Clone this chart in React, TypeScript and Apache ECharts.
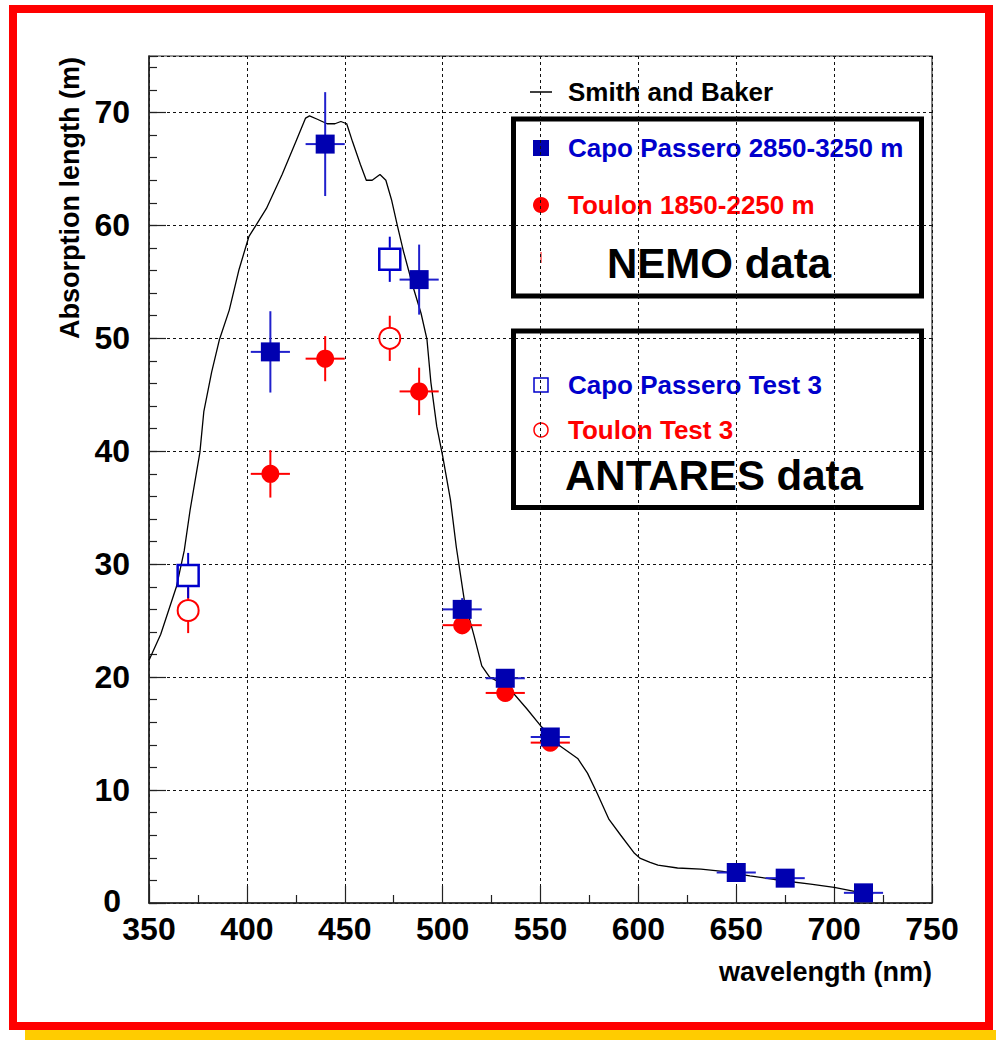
import React, { useEffect, useRef } from "react";
import * as echarts from "echarts";

// ---- Data ----
// Smith and Baker absorption curve
const sbWavelength = [350, 356, 364, 368, 371, 376, 378, 382, 386, 391, 396, 401, 410, 418, 425, 430, 432, 436, 441, 445, 448, 451, 454, 458, 461, 464, 468, 471, 474, 477, 480, 485, 489, 492, 494, 497, 500, 504, 507, 511, 516, 520, 524, 533, 543, 550, 560, 569, 574, 579, 585, 591, 598, 601, 606, 610, 620, 632, 643, 657, 674, 688, 700, 713, 720];
const sbAbsorption = [21.5, 23.8, 28.0, 31.2, 34.8, 39.9, 43.5, 47.0, 49.9, 52.5, 56.1, 59.0, 61.5, 64.5, 67.4, 69.5, 69.7, 69.4, 69.0, 69.0, 69.2, 69.0, 67.4, 65.4, 64.0, 64.0, 64.5, 64.0, 62.2, 59.9, 57.7, 54.5, 52.2, 49.9, 46.1, 42.2, 39.6, 35.7, 31.5, 26.9, 23.7, 21.0, 20.0, 19.2, 17.2, 15.7, 13.9, 12.8, 11.5, 9.7, 7.4, 6.0, 4.4, 3.95, 3.6, 3.35, 3.1, 3.0, 2.8, 2.4, 1.97, 1.68, 1.38, 0.94, 0.8];

// Capo Passero 2850-3250 m (NEMO)
const capoX = [412, 440, 488, 510, 532, 555, 650, 675, 715];
const capoY = [48.8, 67.2, 55.2, 26.0, 19.9, 14.7, 2.7, 2.2, 0.9];
const capoXErr = [10, 10, 10, 10, 10, 10, 10, 10, 10];
const capoYErr = [3.6, 4.6, 3.1, 1.0, 0.8, 0.6, 0.3, 0.3, 0.2];

// Toulon 1850-2250 m (NEMO)
const toulonX = [412, 440, 488, 510, 532, 555];
const toulonY = [38.0, 48.2, 45.3, 24.6, 18.6, 14.2];
const toulonXErr = [10, 10, 10, 10, 10, 10];
const toulonYErr = [2.1, 2.0, 2.1, 0.8, 0.6, 0.5];

// Capo Passero Test 3 (ANTARES)
const capoT3X = [370, 473];
const capoT3Y = [29.0, 57.0];
const capoT3YErr = [2.0, 2.0];

// Toulon Test 3 (ANTARES)
const toulonT3X = [370, 473];
const toulonT3Y = [25.9, 50.0];
const toulonT3YErr = [2.0, 2.0];

const xTicks = { min: 350, max: 750, step: 50 };
const yTicks = { min: 0, max: 75, step: 10, minorStep: 2 };

const FONT = '"Liberation Sans", Arial, Helvetica, sans-serif';
const BLUE_FILL = "#0000b0";
const BLUE = "#0000cc";
const BLUE_BAR = "#2020cc";
const RED = "#ff0000";

function errorSeries(name: string, xs: number[], ys: number[], xe: number[] | null, ye: number[], color: string, gap: number) {
  const data = xs.map((x, i) => [x, ys[i], xe ? xe[i] : 0, ye[i]]);
  return {
    type: "custom",
    name,
    data,
    encode: { x: 0, y: 1 },
    silent: true,
    z: 3,
    renderItem: (params: any, api: any) => {
      const x = api.value(0);
      const y = api.value(1);
      const ex = api.value(2);
      const ey = api.value(3);
      const c = api.coord([x, y]);
      const top = api.coord([x, y + ey]);
      const bot = api.coord([x, y - ey]);
      const left = api.coord([x - ex, y]);
      const right = api.coord([x + ex, y]);
      const style = { stroke: color, lineWidth: 2, fill: null };
      const children: any[] = [];
      if (c[1] - top[1] > gap) {
        children.push({ type: "line", shape: { x1: c[0], y1: c[1] - gap, x2: top[0], y2: top[1] }, style });
      }
      if (bot[1] - c[1] > gap) {
        children.push({ type: "line", shape: { x1: c[0], y1: c[1] + gap, x2: bot[0], y2: bot[1] }, style });
      }
      if (c[0] - left[0] > gap) {
        children.push({ type: "line", shape: { x1: c[0] - gap, y1: c[1], x2: left[0], y2: left[1] }, style });
      }
      if (right[0] - c[0] > gap) {
        children.push({ type: "line", shape: { x1: c[0] + gap, y1: c[1], x2: right[0], y2: right[1] }, style });
      }
      return { type: "group", children };
    },
  };
}

function App() {
  const ref = useRef<HTMLDivElement>(null);

  useEffect(() => {
    if (!ref.current) return;
    const chart = echarts.init(ref.current, null, { renderer: "svg" });

    const tickLine = { color: "#222", width: 1.2 };
    const labelStyle = { fontSize: 32, lineHeight: 24, fontWeight: "bold" as const, color: "#000", fontFamily: FONT };
    const gridLine = { color: "#111", type: [3, 3] as any, width: 1 };

    const option: any = {
      animation: false,
      backgroundColor: "#ffffff",
      grid: {
        left: 149,
        top: 56,
        right: 64,
        bottom: 137,
        show: true,
        borderColor: "#333",
        borderWidth: 1.2,
        backgroundColor: "transparent",
      },
      xAxis: [
        {
          type: "value",
          min: xTicks.min,
          max: xTicks.max,
          interval: xTicks.step,
          axisLine: { show: true, onZero: false, lineStyle: { color: "#222", width: 1.5 } },
          axisTick: { show: true, inside: true, length: 17, lineStyle: tickLine },
          minorTick: { show: true, splitNumber: 2, length: 8, lineStyle: tickLine },
          splitLine: { show: true, lineStyle: gridLine },
          axisLabel: { ...labelStyle, margin: 14 },
        },
      ],
      yAxis: [
        {
          type: "value",
          position: "left",
          min: yTicks.min,
          max: yTicks.max,
          interval: yTicks.step,
          axisLine: { show: true, onZero: false, lineStyle: { color: "#222", width: 1.5 } },
          axisTick: { show: true, inside: true, length: 17, lineStyle: tickLine },
          splitLine: { show: true, lineStyle: gridLine },
          axisLabel: {
            ...labelStyle,
            margin: 19,
            showMaxLabel: false,
            formatter: (v: number) => (v > 70 ? "" : v === 0 ? "{zero|0}" : String(v)),
            rich: {
              zero: { fontSize: 32, lineHeight: 24, fontWeight: "bold", color: "#000", fontFamily: FONT, padding: [0, 9, 4, 0] },
            },
          },
        },
        {
          type: "value",
          position: "left",
          min: yTicks.min,
          max: yTicks.max,
          interval: yTicks.minorStep,
          axisLine: { show: false, onZero: false },
          axisTick: { show: true, inside: true, length: 8, lineStyle: tickLine },
          splitLine: { show: false },
          axisLabel: { show: false },
        },
      ],
      series: [
        {
          type: "line",
          name: "Smith and Baker",
          data: sbWavelength.map((x, i) => [x, sbAbsorption[i]]),
          showSymbol: false,
          symbol: "none",
          lineStyle: { color: "#000", width: 1.3 },
          z: 2,
          silent: true,
        },
        errorSeries("Toulon Test 3 err", toulonT3X, toulonT3Y, null, toulonT3YErr, RED, 11),
        {
          type: "scatter",
          name: "Toulon Test 3",
          data: toulonT3X.map((x, i) => [x, toulonT3Y[i]]),
          symbol: "circle",
          symbolSize: 21,
          itemStyle: { color: "rgba(255,255,255,0)", borderColor: RED, borderWidth: 2, opacity: 1 },
          z: 4,
        },
        errorSeries("Capo Passero Test 3 err", capoT3X, capoT3Y, null, capoT3YErr, BLUE, 11.5),
        {
          type: "scatter",
          name: "Capo Passero Test 3",
          data: capoT3X.map((x, i) => [x, capoT3Y[i]]),
          symbol: "rect",
          symbolSize: 21,
          itemStyle: { color: "rgba(255,255,255,0)", borderColor: BLUE, borderWidth: 2.5, opacity: 1 },
          z: 4,
        },
        errorSeries("Toulon 1850-2250 m err", toulonX, toulonY, toulonXErr, toulonYErr, RED, 0),
        {
          type: "scatter",
          name: "Toulon 1850-2250 m",
          data: toulonX.map((x, i) => [x, toulonY[i]]),
          symbol: "circle",
          symbolSize: 18,
          itemStyle: { color: RED, opacity: 1 },
          z: 4,
        },
        errorSeries("Capo Passero 2850-3250 m err", capoX, capoY, capoXErr, capoYErr, BLUE_BAR, 0),
        {
          type: "scatter",
          name: "Capo Passero 2850-3250 m",
          data: capoX.map((x, i) => [x, capoY[i]]),
          symbol: "rect",
          symbolSize: 19,
          itemStyle: { color: BLUE_FILL, opacity: 1 },
          z: 5,
        },
      ],
      graphic: [
        // outer frame and shadow
        { type: "rect", shape: { x: 25, y: 1030, width: 971, height: 10 }, style: { fill: "#ffcc00" }, z: 0 },
        { type: "rect", shape: { x: 13, y: 9, width: 976, height: 1017 }, style: { fill: "none", stroke: "#ff0000", lineWidth: 8 }, z: 0 },
        // axis titles
        {
          type: "text",
          x: 70,
          y: 57,
          rotation: Math.PI / 2,
          style: { text: "Absorption length (m)", x: 0, y: 0, font: `bold 27px ${FONT}`, fill: "#000", align: "right", verticalAlign: "middle", textAlign: "right", textVerticalAlign: "middle" },
        },
        {
          type: "text",
          style: { text: "wavelength (nm)", x: 932, y: 972, font: `bold 27px ${FONT}`, fill: "#000", align: "right", verticalAlign: "middle", textAlign: "right", textVerticalAlign: "middle" },
        },
        // legend: Smith and Baker
        { type: "line", shape: { x1: 530, y1: 92, x2: 552, y2: 92 }, style: { stroke: "#000", lineWidth: 1.5 } },
        { type: "text", style: { text: "Smith and Baker", x: 568, y: 92, font: `bold 26px ${FONT}`, fill: "#000", align: "left", verticalAlign: "middle", textAlign: "left", textVerticalAlign: "middle" } },
        // NEMO box
        { type: "rect", shape: { x: 513.5, y: 119, width: 408, height: 177 }, style: { fill: "none", stroke: "#000", lineWidth: 5 } },
        { type: "rect", shape: { x: 533, y: 140, width: 16, height: 16 }, style: { fill: BLUE_FILL } },
        { type: "text", style: { text: "Capo Passero 2850-3250 m", x: 568, y: 148, font: `bold 26px ${FONT}`, fill: BLUE, align: "left", verticalAlign: "middle", textAlign: "left", textVerticalAlign: "middle" } },
        { type: "circle", shape: { cx: 541, cy: 205, r: 8 }, style: { fill: RED } },
        { type: "text", style: { text: "Toulon 1850-2250 m", x: 568, y: 205, font: `bold 26px ${FONT}`, fill: RED, align: "left", verticalAlign: "middle", textAlign: "left", textVerticalAlign: "middle" } },
        { type: "line", shape: { x1: 541, y1: 252, x2: 541, y2: 263 }, style: { stroke: RED, lineWidth: 1 } },
        { type: "text", style: { text: "NEMO data", x: 607, y: 263, font: `bold 42px ${FONT}`, fill: "#000", align: "left", verticalAlign: "middle", textAlign: "left", textVerticalAlign: "middle" } },
        // ANTARES box
        { type: "rect", shape: { x: 513.5, y: 331, width: 408, height: 176.5 }, style: { fill: "none", stroke: "#000", lineWidth: 5 } },
        { type: "rect", shape: { x: 534, y: 378, width: 14, height: 14 }, style: { fill: "none", stroke: BLUE, lineWidth: 1.5 } },
        { type: "text", style: { text: "Capo Passero Test 3", x: 568, y: 385, font: `bold 26px ${FONT}`, fill: BLUE, align: "left", verticalAlign: "middle", textAlign: "left", textVerticalAlign: "middle" } },
        { type: "circle", shape: { cx: 541, cy: 430, r: 7 }, style: { fill: "none", stroke: RED, lineWidth: 1.5 } },
        { type: "text", style: { text: "Toulon Test 3", x: 568, y: 430, font: `bold 26px ${FONT}`, fill: RED, align: "left", verticalAlign: "middle", textAlign: "left", textVerticalAlign: "middle" } },
        { type: "text", style: { text: "ANTARES data", x: 565, y: 475, font: `bold 42px ${FONT}`, fill: "#000", align: "left", verticalAlign: "middle", textAlign: "left", textVerticalAlign: "middle" } },
      ],
    };

    chart.setOption(option);
    return () => chart.dispose();
  }, []);

  return (
    <div
      ref={ref}
      style={{ position: "fixed", left: 0, top: 0, width: 996, height: 1040, background: "#ffffff" }}
    />
  );
}

export default App;
